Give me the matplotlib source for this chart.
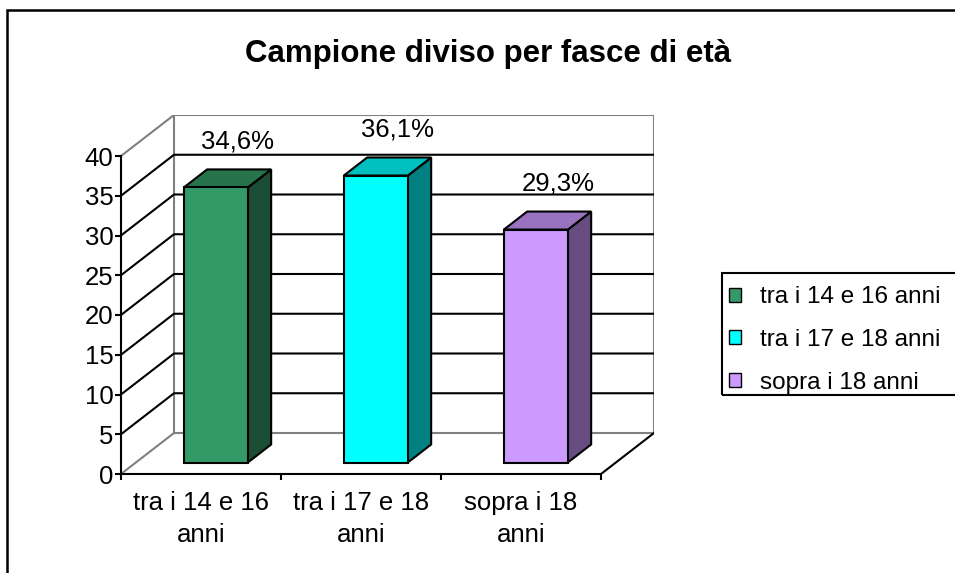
import matplotlib
matplotlib.use("Agg")
import matplotlib.pyplot as plt
from matplotlib.patches import Polygon, Rectangle, Patch

plt.rcParams['font.family'] = ['Liberation Sans', 'DejaVu Sans']

# data
categories = ["tra i 14 e 16\nanni", "tra i 17 e 18\nanni", "sopra i 18\nanni"]
legend_labels = ["tra i 14 e 16 anni", "tra i 17 e 18 anni", "sopra i 18 anni"]
values = [34.6, 36.1, 29.3]
y_ticks = [0, 5, 10, 15, 20, 25, 30, 35, 40]
title = "Campione diviso per fasce di età"

front_colors = ["#339966", "#00FFFF", "#CC99FF"]
top_colors = ["#26734C", "#00BFBF", "#9973BF"]
side_colors = ["#1A4D33", "#008080", "#664C80"]

W, H = 955, 573
PX_X = 160.0    # pixels per category
PX_Y = 7.95     # pixels per value unit
DX = 53 / PX_X  # depth offset, category units
DY = 41 / PX_Y  # depth offset, value units
F0, F1 = 0.28, 0.72  # bar front / back position within depth
BAR_W = 0.40
ymax = y_ticks[-1]
n = len(values)
fs = 18.5

fig = plt.figure(figsize=(W / 100, H / 100), dpi=100)
x0_px, y0_px = 121, 474
ax = fig.add_axes([x0_px / W, (H - y0_px) / H,
                   (n + DX) * PX_X / W, (ymax + DY) * PX_Y / H])
ax.set_xlim(0, n + DX)
ax.set_ylim(0, ymax + DY)
ax.patch.set_alpha(0)

grey = "#808080"
lw = 1.5
# walls: back wall outline, left wall edges, floor edges
ax.plot([DX, n + DX, n + DX, DX, DX], [DY, DY, ymax + DY, ymax + DY, DY],
        color=grey, lw=lw, zorder=1)
ax.plot([0, DX], [0, DY], color=grey, lw=lw, zorder=1)
ax.plot([0, DX], [ymax, ymax + DY], color=grey, lw=lw, zorder=1)
ax.plot([n, n + DX], [0, DY], color="black", lw=lw, zorder=1)
for v in y_ticks[1:-1]:
    ax.plot([0, DX, n + DX], [v, v + DY, v + DY], color="black", lw=lw, zorder=1)

# bars
for i, v in enumerate(values):
    c = i + 0.5
    l, r = c - BAR_W / 2, c + BAR_W / 2
    fx, fy = F0 * DX, F0 * DY
    bx, by = F1 * DX, F1 * DY
    front = Rectangle((l + fx, fy), BAR_W, v, fc=front_colors[i], ec="black", lw=lw, zorder=3)
    side = Polygon([(r + fx, fy), (r + bx, by), (r + bx, by + v), (r + fx, fy + v)],
                   closed=True, fc=side_colors[i], ec="black", lw=lw, zorder=3)
    top = Polygon([(l + fx, fy + v), (r + fx, fy + v), (r + bx, by + v), (l + bx, by + v)],
                  closed=True, fc=top_colors[i], ec="black", lw=lw, zorder=3)
    for p in (side, top, front):
        ax.add_patch(p)
    ax.annotate(f"{v:.1f}%".replace(".", ","), xy=(c + bx, by + v),
                xytext=(-1, 20), textcoords="offset points",
                ha="center", va="center", fontsize=fs, zorder=4)

# axes
for s in ("top", "right"):
    ax.spines[s].set_visible(False)
ax.spines["left"].set_bounds(0, ymax)
ax.spines["bottom"].set_bounds(0, n)
ax.spines["left"].set_linewidth(lw)
ax.spines["bottom"].set_linewidth(lw)
ax.set_yticks(y_ticks)
ax.set_yticklabels([str(t) for t in y_ticks], fontsize=fs)
ax.tick_params(axis="y", length=4.5, width=lw, pad=1)
ax.set_xticks(range(n + 1))
ax.set_xticklabels([])
ax.tick_params(axis="x", which="major", length=4.5, width=lw)
ax.set_xticks([i + 0.5 for i in range(n)], minor=True)
ax.set_xticklabels(categories, minor=True, fontsize=fs, linespacing=1.45)
ax.tick_params(axis="x", which="minor", length=0, pad=12)

# title
fig.text(488 / W, 1 - 54 / H, title, ha="center", va="center",
         fontsize=22.5, fontweight="bold")

# legend (frame runs past the right edge of the picture)
handles = [Patch(fc=col, ec="black", lw=1) for col in front_colors]
fig.legend(handles, legend_labels, loc="upper left",
           bbox_to_anchor=(722 / W, 1 - 279 / H), fontsize=17.5,
           frameon=False, borderpad=0.3,
           handlelength=0.5, handleheight=0.5, handletextpad=0.75,
           labelspacing=0.85, borderaxespad=0)
fig.patches.append(Rectangle((722 / W, 1 - 395 / H), 0.3, 122 / H,
                             transform=fig.transFigure, fill=False, ec="black", lw=lw))

# outer chart border (cut at the right and bottom)
fig.patches.append(Rectangle((7 / W, -0.1), 1.2, 1.1 - 10 / H, transform=fig.transFigure,
                             fill=False, ec="black", lw=1.8))

fig.savefig("out.png", dpi=100)
